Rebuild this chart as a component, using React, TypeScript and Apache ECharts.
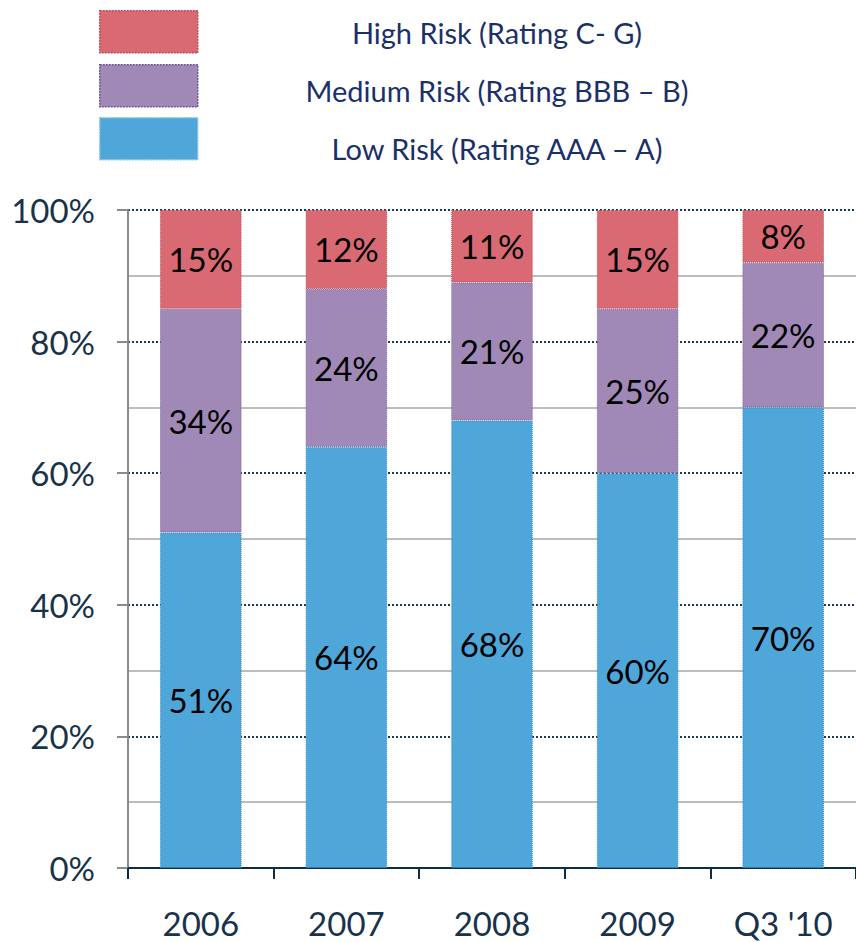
import React, { useEffect, useRef } from "react";
import * as echarts from "echarts";

const categories = ["2006", "2007", "2008", "2009", "Q3 '10"];
const lowRisk = [51, 64, 68, 60, 70];
const mediumRisk = [34, 24, 21, 25, 22];
const highRisk = [15, 12, 11, 15, 8];
const legendLabels = [
  "High Risk (Rating C- G)",
  "Medium Risk (Rating BBB – B)",
  "Low Risk (Rating AAA – A)",
];

const FONT = "Lato, 'Open Sans', sans-serif";
const RED = "#D96A74";
const PURPLE = "#A089B6";
const BLUE = "#4EA6D9";

export default function App() {
  const ref = useRef<HTMLDivElement>(null);
  useEffect(() => {
    if (!ref.current) return;
    const chart = echarts.init(ref.current, null, { renderer: "svg" });
    const label = {
      show: true,
      position: "inside",
      formatter: "{c}%",
      color: "#000",
      fontSize: 33,
      fontFamily: FONT,
    };
    const legendColors = [
      [RED, "#B84E5A"],
      [PURPLE, "#6E5890"],
      [BLUE, "#8CC3E6"],
    ];
    const legendTops = [10, 64, 117];
    const legendTextY = [32, 90, 148];
    const graphic: any[] = [];
    legendLabels.forEach((t, i) => {
      graphic.push({
        type: "rect",
        left: 99,
        top: legendTops[i],
        shape: { width: 98, height: 42 },
        style: {
          fill: legendColors[i][0],
          stroke: legendColors[i][1],
          lineWidth: 1.5,
          lineDash: [2, 1],
        },
      });
      graphic.push({
        type: "text",
        x: 497,
        y: legendTextY[i],
        style: {
          text: t,
          fill: "#1B2F6A",
          font: `29px ${FONT}`,
          align: "center",
          verticalAlign: "middle",
        },
      });
    });
    chart.setOption({
      animation: false,
      graphic,
      grid: { left: 128, top: 210, bottom: 74, width: 730, containLabel: false },
      xAxis: {
        type: "category",
        data: categories,
        axisLine: { lineStyle: { color: "#0F2D45", width: 2 } },
        axisTick: { show: true, length: 11, lineStyle: { color: "#0F2D45", width: 2 } },
        axisLabel: { margin: 38, fontSize: 33, color: "#17324A", fontFamily: FONT },
      },
      yAxis: {
        type: "value",
        min: 0,
        max: 100,
        interval: 20,
        axisLine: { show: true, lineStyle: { color: "#8A8A8A", width: 2 } },
        axisTick: { show: true, length: 11, lineStyle: { color: "#8A8A8A", width: 2 } },
        axisLabel: {
          formatter: "{value}%",
          margin: 33,
          fontSize: 33,
          color: "#17324A",
          fontFamily: FONT,
        },
        splitLine: {
          show: true,
          lineStyle: { color: "#1B3A52", width: 2, type: [2, 2] },
        },
        minorTick: { show: false, splitNumber: 2 },
        minorSplitLine: { show: true, lineStyle: { color: "#BDBDBD", width: 2 } },
      },
      series: [
        {
          name: "Low Risk (Rating AAA – A)",
          type: "bar",
          stack: "risk",
          barWidth: "56%",
          data: lowRisk,
          itemStyle: { color: BLUE, borderColor: "#3E8FC4", borderWidth: 1, borderType: "dotted" },
          label,
        },
        {
          name: "Medium Risk (Rating BBB – B)",
          type: "bar",
          stack: "risk",
          data: mediumRisk,
          itemStyle: { color: PURPLE, borderColor: "#7A629E", borderWidth: 1, borderType: "dotted" },
          label,
        },
        {
          name: "High Risk (Rating C- G)",
          type: "bar",
          stack: "risk",
          data: highRisk,
          itemStyle: { color: RED, borderColor: "#B84E5A", borderWidth: 1, borderType: "dotted" },
          label,
        },
      ],
    });
    return () => chart.dispose();
  }, []);
  return (
    <div
      ref={ref}
      style={{ position: "fixed", left: 0, top: 0, width: 856, height: 942, background: "#fff" }}
    />
  );
}
